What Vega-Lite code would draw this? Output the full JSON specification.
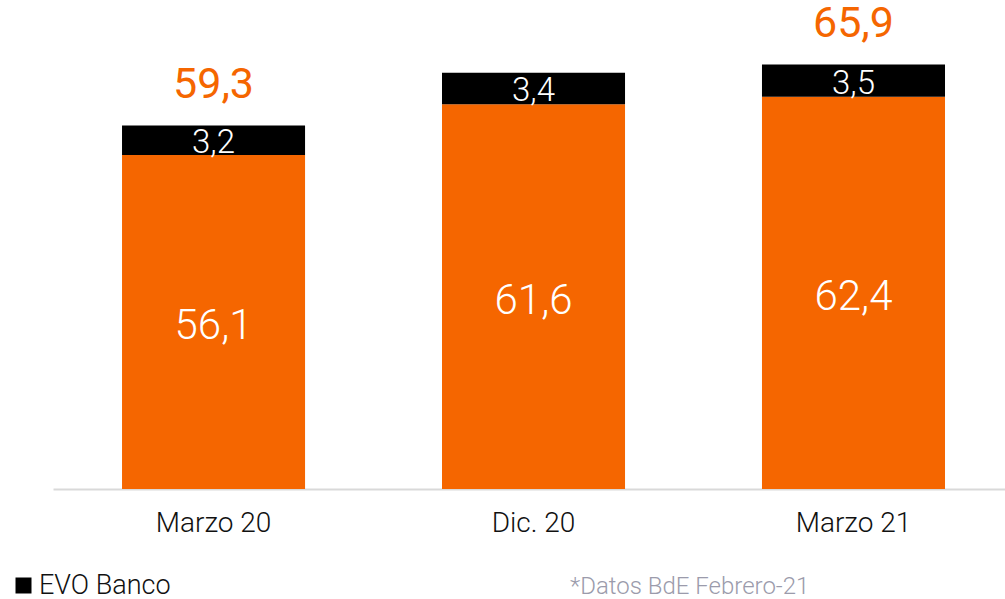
{
  "$schema": "https://vega.github.io/schema/vega-lite/v6.json",
  "width": 952,
  "height": 489,
  "autosize": {"type": "none"},
  "padding": {"left": 53, "top": 0, "right": 0, "bottom": 110},
  "background": "white",
  "config": {
    "view": {"stroke": null},
    "font": "Roboto",
    "locale": {"number": {"decimal": ",", "thousands": ".", "grouping": [3], "currency": ["", " €"]}}
  },
  "title": {
    "text": "*Datos BdE Febrero-21",
    "orient": "bottom",
    "anchor": "start",
    "frame": "group",
    "dx": 517,
    "offset": -24,
    "baseline": "top",
    "font": "Roboto",
    "fontSize": 24,
    "fontWeight": 300,
    "color": "#9b9bab"
  },
  "data": {
    "values": [
      {"periodo": "Marzo 20", "serie": "Resto", "valor": 56.1},
      {"periodo": "Marzo 20", "serie": "EVO Banco", "valor": 3.2},
      {"periodo": "Dic. 20", "serie": "Resto", "valor": 61.6},
      {"periodo": "Dic. 20", "serie": "EVO Banco", "valor": 3.4},
      {"periodo": "Marzo 21", "serie": "Resto", "valor": 62.4},
      {"periodo": "Marzo 21", "serie": "EVO Banco", "valor": 3.5}
    ]
  },
  "transform": [
    {"stack": "valor", "groupby": ["periodo"], "sort": [{"field": "serie", "order": "descending"}], "as": ["y0", "y1"]},
    {"calculate": "(max(datum.y0, 20) + datum.y1) / 2", "as": "ymid"}
  ],
  "encoding": {
    "x": {
      "field": "periodo",
      "type": "nominal",
      "sort": ["Marzo 20", "Dic. 20", "Marzo 21"],
      "scale": {"paddingInner": 0.428, "paddingOuter": 0.2016, "align": 0.535},
      "axis": {
        "title": null,
        "labelAngle": 0,
        "ticks": false,
        "tickSize": 0,
        "labelPadding": 20,
        "labelFontSize": 28,
        "labelFontWeight": 300,
        "labelColor": "#111111",
        "labelFont": "Roboto",
        "domainColor": "#d9d9d9",
        "domainWidth": 2,
        "grid": false
      }
    }
  },
  "layer": [
    {
      "mark": {"type": "bar"},
      "encoding": {
        "y": {
          "field": "y1",
          "type": "quantitative",
          "scale": {"domain": [20, 72.86], "zero": false, "clamp": true, "nice": false},
          "axis": null
        },
        "y2": {"field": "y0"},
        "color": {
          "field": "serie",
          "type": "nominal",
          "scale": {"domain": ["EVO Banco", "Resto"], "range": ["#000000", "#F56600"]},
          "legend": {
            "values": ["EVO Banco"],
            "title": null,
            "orient": "none",
            "legendX": -43,
            "legendY": 572,
            "symbolType": "square",
            "symbolSize": 256,
            "symbolStrokeWidth": 0,
            "labelFontSize": 27,
            "labelFontWeight": 300,
            "labelFont": "Roboto",
            "labelColor": "#111111",
            "labelOffset": 2,
            "encode": {"symbols": {"update": {"fill": {"value": "#22222a"}}}}
          }
        }
      }
    },
    {
      "transform": [{"filter": "datum.serie == 'Resto'"}],
      "mark": {"type": "text", "color": "white", "fontWeight": 300, "fontSize": 42, "baseline": "middle", "dy": 4},
      "encoding": {
        "y": {"field": "ymid", "type": "quantitative"},
        "text": {"field": "valor", "type": "quantitative", "format": ".1f"}
      }
    },
    {
      "transform": [{"filter": "datum.serie == 'EVO Banco'"}],
      "mark": {"type": "text", "color": "white", "fontWeight": 300, "fontSize": 33, "baseline": "middle", "dy": 3},
      "encoding": {
        "y": {"field": "ymid", "type": "quantitative"},
        "text": {"field": "valor", "type": "quantitative", "format": ".1f"}
      }
    },
    {
      "data": {
        "values": [
          {"periodo": "Marzo 20", "total": 59.3},
          {"periodo": "Marzo 21", "total": 65.9}
        ]
      },
      "mark": {"type": "text", "color": "#F56600", "fontSize": 43, "baseline": "alphabetic", "dy": -27},
      "encoding": {
        "y": {"field": "total", "type": "quantitative"},
        "text": {"field": "total", "type": "quantitative", "format": ".1f"}
      }
    }
  ]
}
